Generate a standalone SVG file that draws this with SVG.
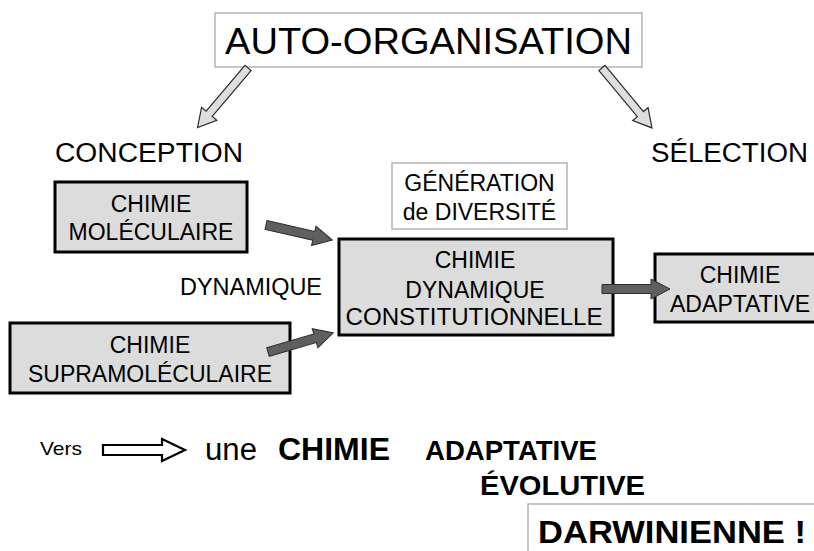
<svg xmlns="http://www.w3.org/2000/svg" xmlns:xlink="http://www.w3.org/1999/xlink" width="814" height="551" viewBox="0 0 814 551">
<style>
text{font-family:"Liberation Sans",Arial,sans-serif;fill:#000}
.box{fill:#dcdcdc;stroke:#000;stroke-width:3}
.thin{fill:#fff;stroke:#a8a8a8;stroke-width:1.3}
.t23{font-size:23px;text-anchor:middle}
.hollow{fill:#dedede;stroke:#2a2a2a;stroke-width:1.2;stroke-linejoin:miter}
.dark{fill:#5f5f5f;stroke:#2e2e2e;stroke-width:1}
.b{font-weight:bold}
</style>
<defs>
<polygon id="harrow" points="0,-4 60,-4 60,-10 78,0 60,10 60,4 0,4"/>
<polygon id="darrow" points="0,-4.5 49,-4.5 49,-10 68,0 49,10 49,4.5 0,4.5"/>
</defs>
<rect width="814" height="551" fill="#fff"/>

<g id="auto-organisation">
<rect x="215" y="13" width="427" height="54" class="thin" stroke="#999"/>
<text x="428.5" y="54" font-size="37.5" text-anchor="middle" textLength="407" lengthAdjust="spacingAndGlyphs">AUTO-ORGANISATION</text>
</g>

<g id="conception"><text x="55" y="162" font-size="27" textLength="188" lengthAdjust="spacingAndGlyphs">CONCEPTION</text></g>
<g id="selection"><text x="651" y="162" font-size="27" textLength="157" lengthAdjust="spacingAndGlyphs">SÉLECTION</text></g>

<g id="chimie-moleculaire">
<rect x="55" y="182" width="192" height="70" class="box"/>
<text x="151" y="212" class="t23">CHIMIE</text>
<text x="151" y="240" class="t23">MOLÉCULAIRE</text>
</g>

<g id="dynamique"><text x="180" y="295" font-size="23" textLength="142" lengthAdjust="spacingAndGlyphs">DYNAMIQUE</text></g>

<g id="chimie-supramoleculaire">
<rect x="10" y="323" width="280" height="70" class="box"/>
<text x="150" y="353" class="t23">CHIMIE</text>
<text x="150" y="382" class="t23">SUPRAMOLÉCULAIRE</text>
</g>

<g id="generation-diversite">
<rect x="392" y="163" width="175" height="66" class="thin"/>
<text x="479.5" y="191" class="t23">GÉNÉRATION</text>
<text x="479.5" y="220" class="t23">de DIVERSITÉ</text>
</g>

<g id="chimie-dynamique-constitutionnelle">
<rect x="339" y="239" width="274" height="96" class="box"/>
<text x="475" y="268" class="t23">CHIMIE</text>
<text x="475" y="298" class="t23">DYNAMIQUE</text>
<text x="474" y="325" class="t23" textLength="257" lengthAdjust="spacingAndGlyphs">CONSTITUTIONNELLE</text>
</g>

<g id="chimie-adaptative">
<rect x="655" y="254" width="170" height="68" class="box"/>
<text x="740" y="283" class="t23">CHIMIE</text>
<text x="740" y="312" class="t23" textLength="140" lengthAdjust="spacingAndGlyphs">ADAPTATIVE</text>
</g>

<g id="connectors">
<use xlink:href="#harrow" class="hollow" transform="translate(248,68) rotate(130.3)"/>
<use xlink:href="#harrow" class="hollow" transform="translate(602,68) rotate(50.2)"/>
<use xlink:href="#darrow" class="dark" transform="translate(266,225) rotate(12.8)"/>
<use xlink:href="#darrow" class="dark" transform="translate(268,352) rotate(-16.3)"/>
<use xlink:href="#darrow" class="dark" transform="translate(602,289)"/>
<polygon points="103,445 162,445 162,439 185,450 162,461 162,455 103,455" fill="#fff" stroke="#000" stroke-width="2.2"/>
</g>

<g id="bottom-text">
<text x="40" y="455" font-size="19" textLength="42" lengthAdjust="spacingAndGlyphs">Vers</text>
<text x="205" y="460" font-size="31" textLength="52" lengthAdjust="spacingAndGlyphs">une</text>
<text x="278" y="460" font-size="32" class="b" textLength="112" lengthAdjust="spacingAndGlyphs">CHIMIE</text>
<text x="425" y="460" font-size="28" class="b" textLength="172" lengthAdjust="spacingAndGlyphs">ADAPTATIVE</text>
<text x="480" y="495" font-size="28" class="b" textLength="165" lengthAdjust="spacingAndGlyphs">ÉVOLUTIVE</text>
</g>

<g id="darwinienne">
<rect x="528" y="504" width="300" height="60" class="thin"/>
<text x="538" y="543" font-size="32" class="b" textLength="268" lengthAdjust="spacingAndGlyphs">DARWINIENNE !</text>
</g>
</svg>
